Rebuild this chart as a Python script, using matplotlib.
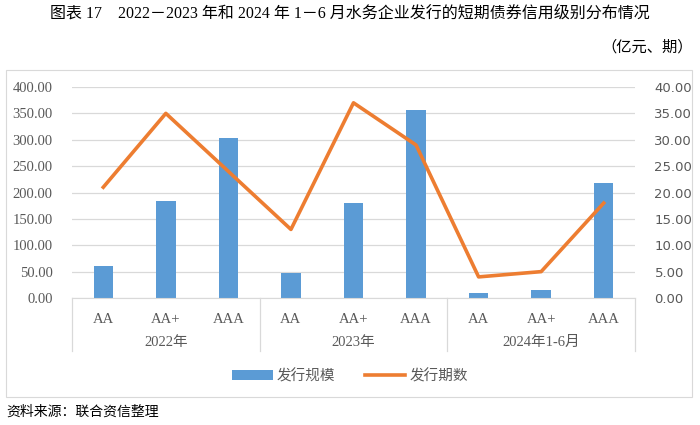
import numpy as np
import matplotlib.pyplot as plt

# data
groups = ['2022年', '2023年', '2024年1-6月']
ratings = ['AA', 'AA+', 'AAA']
scale = [60, 183, 303, 48, 181, 357, 9, 16, 218]      # 发行规模 (亿元)
count = [21, 35, 24, 13, 37, 29, 4, 5, 18]            # 发行期数 (期)

serif = ['Liberation Serif', 'Noto Sans CJK SC']
cjk = ['Noto Sans CJK SC', 'DejaVu Sans']
blue = '#5b9bd5'
orange = '#ed7d31'
grid_c = '#d9d9d9'
txt_c = '#595959'

fig = plt.figure(figsize=(7, 4.25), dpi=100)

# outer chart frame
frame = plt.Rectangle((6 / 700, 1 - 397 / 425), 686 / 700, 327 / 425, transform=fig.transFigure,
                      fill=False, edgecolor='#d9d9d9', lw=0.8)
fig.patches.append(frame)

ax = fig.add_axes([72 / 700, 1 - 298 / 425, 563 / 700, 211 / 425])
ax2 = ax.twinx()

x = np.arange(len(scale))
ax.bar(x, scale, width=0.31, color=blue, zorder=2, label='发行规模')
ax2.plot(x, count, color=orange, lw=2.6, zorder=3, label='发行期数')

ax.set_xlim(-0.5, len(scale) - 0.5)
ax.set_ylim(0, 400)
ax2.set_ylim(0, 40)
ax.set_yticks(np.arange(0, 401, 50))
ax2.set_yticks(np.arange(0, 41, 5))
ax.set_yticklabels([f'{v:.2f}' for v in np.arange(0, 401, 50)], family=serif, fontsize=10.5, color=txt_c)
ax2.set_yticklabels([f'{v:.2f}' for v in np.arange(0, 41, 5)], family='DejaVu Sans', fontsize=9.5, color=txt_c)
ax.yaxis.grid(True, color=grid_c, lw=0.9, zorder=0)
ax.set_axisbelow(True)
for a in (ax, ax2):
    for s in a.spines.values():
        s.set_visible(False)
    a.tick_params(axis='y', length=0, pad=14)
ax.spines['bottom'].set_visible(True)
ax.spines['bottom'].set_color(grid_c)
ax.set_xticks([])

# multi-level category axis
trans = ax.get_xaxis_transform()
for i in range(len(scale)):
    ax.text(x[i], -0.1, ratings[i % 3], transform=trans, ha='center', va='center',
            family=serif, fontsize=10.5, color=txt_c)
for g, name in enumerate(groups):
    ax.text(g * 3 + 1, -0.21, name, transform=trans, ha='center', va='center',
            family=serif, fontsize=10.5, color=txt_c)
for b in [-0.5, 2.5, 5.5, 8.5]:
    ax.plot([b, b], [0, -0.25], transform=trans, color=grid_c, lw=0.9, clip_on=False)

# legend
h1, l1 = ax.get_legend_handles_labels()
h2, l2 = ax2.get_legend_handles_labels()
fig.legend(h1 + h2, l1 + l2, loc='center', bbox_to_anchor=(0.5, 1 - 376 / 425), ncol=2, frameon=False,
           prop={'family': cjk, 'size': 10.5}, labelcolor=txt_c, handlelength=2.8, columnspacing=2.0,
           handletextpad=0.3)

fig.text(0.5, 1 - 14 / 425, '图表 17    2022－2023 年和 2024 年 1－6 月水务企业发行的短期债券信用级别分布情况',
         ha='center', va='center', family=serif, fontsize=11.5, color='black')
fig.text(0.99, 1 - 47 / 425, '（亿元、期）', ha='right', va='center', family=cjk, fontsize=11, color='black')
fig.text(6 / 700, 1 - 412 / 425, '资料来源：联合资信整理', ha='left', va='center', family=cjk, fontsize=10,
         color='black')

fig.savefig('out.png', dpi=100)
